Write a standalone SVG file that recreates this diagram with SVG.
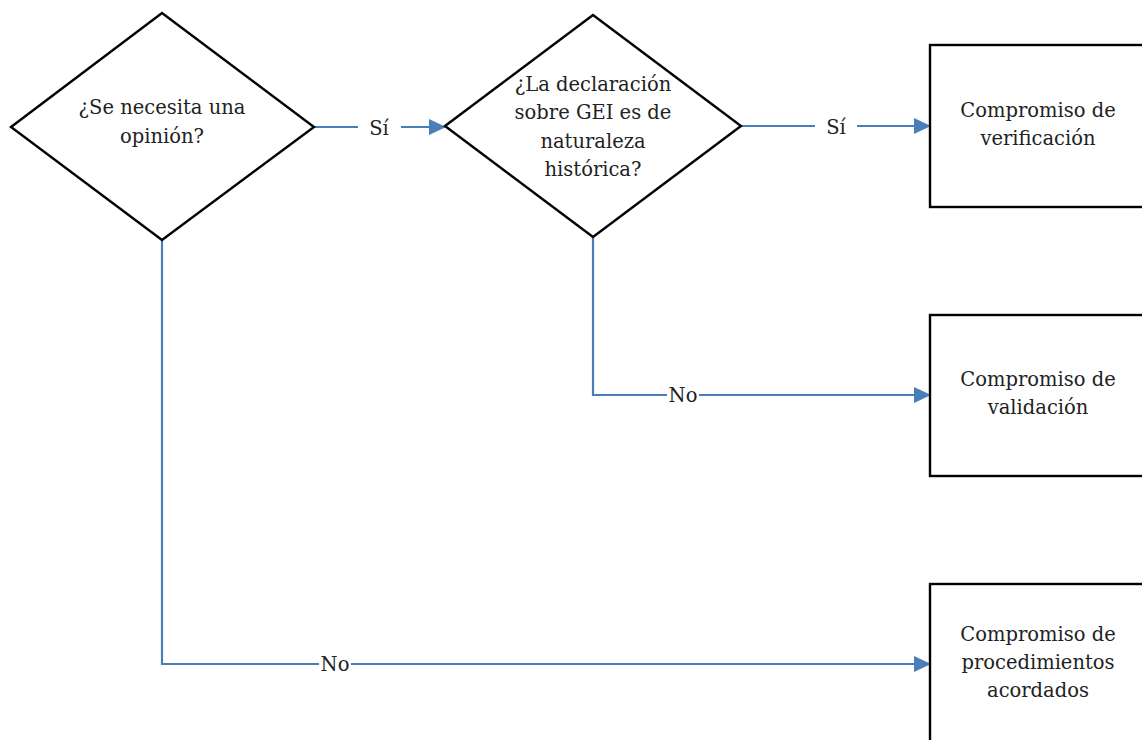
<svg xmlns="http://www.w3.org/2000/svg" width="1142" height="740" viewBox="0 0 1142 740">
<style>
.shape{fill:#fff;stroke:#000;stroke-width:2.4}
.conn{fill:none;stroke:#4A7EBB;stroke-width:2.2}
.t{font-family:"DejaVu Serif","Liberation Serif",serif;font-size:19.5px;fill:#222;text-anchor:middle}
.bg{fill:#fff}
</style>
<defs>
<marker id="arr" markerUnits="userSpaceOnUse" markerWidth="17" markerHeight="16" refX="16" refY="8" orient="auto">
<path d="M0,0 L17,8 L0,16 Z" fill="#4A7EBB"/>
</marker>
</defs>
<rect width="1142" height="740" fill="#fff"/>
<g id="connectors">
<path class="conn" d="M314,127 H358"/>
<path class="conn" d="M401,127 H445" marker-end="url(#arr)"/>
<path class="conn" d="M741,126 H815"/>
<path class="conn" d="M857,126 H930" marker-end="url(#arr)"/>
<path class="conn" d="M593,237 V395 H930" marker-end="url(#arr)"/>
<path class="conn" d="M162,240 V664 H930" marker-end="url(#arr)"/>
<rect class="bg" x="667" y="385" width="32" height="20"/>
<rect class="bg" x="319" y="654" width="32" height="20"/>
<text class="t" x="379" y="135">Sí</text>
<text class="t" x="836" y="134">Sí</text>
<text class="t" x="683" y="402">No</text>
<text class="t" x="335" y="671">No</text>
</g>
<g id="d1">
<polygon class="shape" points="11,127 162,13 314,127 162,240"/>
<text class="t" x="162" y="114">¿Se necesita una</text>
<text class="t" x="162" y="143">opinión?</text>
</g>
<g id="d2">
<polygon class="shape" points="445,126 593,15 741,126 593,237"/>
<text class="t" x="593" y="91">¿La declaración</text>
<text class="t" x="593" y="119">sobre GEI es de</text>
<text class="t" x="593" y="148">naturaleza</text>
<text class="t" x="593" y="176">histórica?</text>
</g>
<g id="b1">
<rect class="shape" x="930" y="45" width="218" height="162"/>
<text class="t" x="1038" y="117">Compromiso de</text>
<text class="t" x="1038" y="145">verificación</text>
</g>
<g id="b2">
<rect class="shape" x="930" y="315" width="218" height="161"/>
<text class="t" x="1038" y="386">Compromiso de</text>
<text class="t" x="1038" y="414">validación</text>
</g>
<g id="b3">
<rect class="shape" x="930" y="584" width="218" height="170"/>
<text class="t" x="1038" y="641">Compromiso de</text>
<text class="t" x="1038" y="669">procedimientos</text>
<text class="t" x="1038" y="697">acordados</text>
</g>
</svg>
